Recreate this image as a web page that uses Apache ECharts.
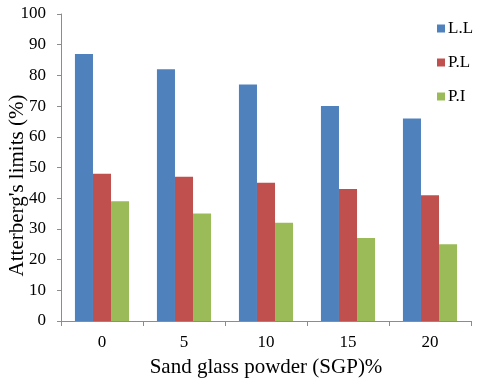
<!DOCTYPE html>
<html>
<head>
<meta charset="utf-8">
<script src="https://cdn.jsdelivr.net/npm/echarts@6/dist/echarts.min.js"></script>
<style>
  html, body { margin: 0; padding: 0; background: #fff; }
  #chart { width: 480px; height: 382px; }
</style>
</head>
<body>
<div id="chart"></div>
<script>
  // 数据
  var categories = ['0', '5', '10', '15', '20'];
  var seriesNames = ['L.L', 'P.L', 'P.I'];
  var llValues = [87, 82, 77, 70, 66];
  var plValues = [48, 47, 45, 43, 41];
  var piValues = [39, 35, 32, 27, 25];
  var colorList = ['#4f81bd', '#c0504d', '#9bbb59'];

  var myChart = echarts.init(document.getElementById('chart'));
  var font = 'Liberation Serif';
  var axisColor = '#8c8c8c';

  var option = {
    animation: false,
    color: colorList,
    grid: { left: 61, right: 9, top: 14, bottom: 61, outerBoundsMode: 'none', containLabel: false },
    legend: {
      orient: 'vertical',
      left: 432,
      top: 15,
      itemWidth: 8,
      itemHeight: 8,
      itemGap: 17,
      icon: 'rect',
      textStyle: { fontFamily: font, fontSize: 17, color: '#000', padding: [0, 0, 0, -2] },
      data: seriesNames
    },
    xAxis: {
      type: 'category',
      data: categories,
      name: 'Sand glass powder (SGP)%',
      nameLocation: 'middle',
      nameGap: 36,
      nameMoveOverlap: false,
      nameTextStyle: { fontFamily: font, fontSize: 21, color: '#000' },
      axisLine: { lineStyle: { color: axisColor } },
      axisTick: { show: true, length: 5, lineStyle: { color: axisColor } },
      axisLabel: { fontFamily: font, fontSize: 17, color: '#000', margin: 13 }
    },
    yAxis: {
      type: 'value',
      min: 0,
      max: 100,
      interval: 10,
      name: "Atterberg's limits (%)",
      nameLocation: 'middle',
      nameGap: 33,
      nameMoveOverlap: false,
      nameTextStyle: { fontFamily: font, fontSize: 21, color: '#000', padding: [0, 36, 0, 0] },
      axisLine: { show: true, lineStyle: { color: axisColor } },
      axisTick: { show: true, length: 4, lineStyle: { color: axisColor } },
      axisLabel: { fontFamily: font, fontSize: 17, color: '#000', margin: 15 },
      splitLine: { show: false }
    },
    series: [
      { name: seriesNames[0], type: 'bar', data: llValues, barGap: '0%', barCategoryGap: '34%' },
      { name: seriesNames[1], type: 'bar', data: plValues, barGap: '0%', barCategoryGap: '34%' },
      { name: seriesNames[2], type: 'bar', data: piValues, barGap: '0%', barCategoryGap: '34%' }
    ]
  };
  myChart.setOption(option);
</script>
</body>
</html>
